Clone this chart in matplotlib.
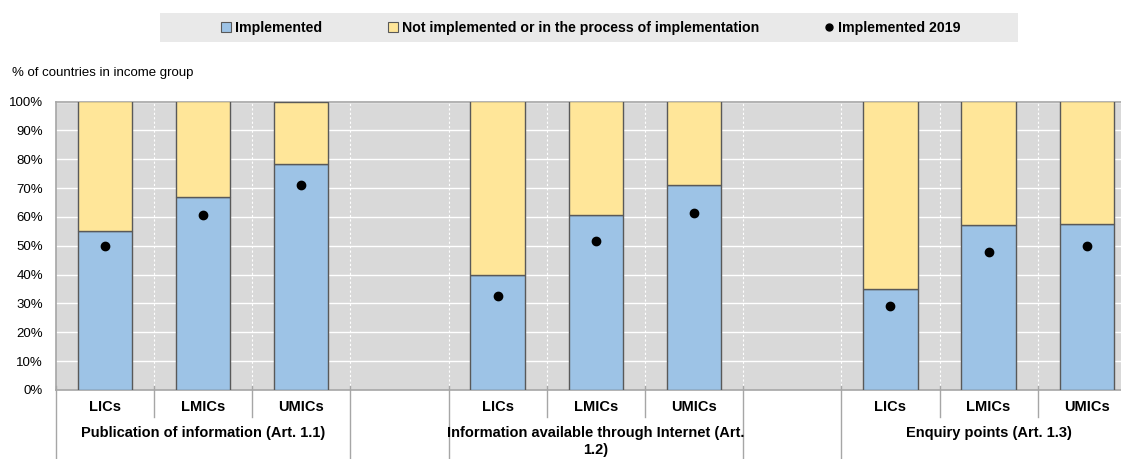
import matplotlib

matplotlib.use("Agg")

import matplotlib.pyplot as plt
from matplotlib.lines import Line2D
from matplotlib.patches import Rectangle
from matplotlib.transforms import blended_transform_factory

plt.rcParams["font.family"] = ["Liberation Sans", "DejaVu Sans"]

groups = [
    "Publication of information (Art. 1.1)",
    "Information available through Internet (Art.\n1.2)",
    "Enquiry points (Art. 1.3)",
]
income_groups = ["LICs", "LMICs", "UMICs"]
implemented = [[55.0, 66.9, 78.3], [39.7, 60.8, 71.2], [34.9, 57.2, 57.6]]
implemented_2019 = [[50.0, 60.8, 71.1], [32.7, 51.7, 61.2], [29.2, 48.0, 49.9]]

BLUE = "#9dc3e6"
YELLOW = "#ffe699"
EDGE = "#595959"
BG = "#d9d9d9"

W, H = 1121, 459
fig = plt.figure(figsize=(W / 100, H / 100), dpi=100)
# the last slot runs a little past the right edge of the figure
ax = fig.add_axes([55.7 / W, 69 / H, 11 * 98.2 / W, 288.5 / H])
ax.set_facecolor(BG)

slot = 0
xs, impl, impl19, cat_labels, centers = [], [], [], [], []
for g, name in enumerate(groups):
    for i, inc in enumerate(income_groups):
        xs.append(slot)
        impl.append(implemented[g][i])
        impl19.append(implemented_2019[g][i])
        cat_labels.append(inc)
        slot += 1
    centers.append(xs[-2])
    slot += 1  # empty spacer between groups

not_impl = [100 - v for v in impl]
ax.bar(xs, impl, width=0.555, color=BLUE, edgecolor=EDGE, linewidth=1.0, zorder=3)
ax.bar(xs, not_impl, bottom=impl, width=0.555, color=YELLOW, edgecolor=EDGE,
       linewidth=1.0, zorder=3)
ax.plot(xs, impl19, "o", color="black", markersize=6, zorder=4)

ax.set_xlim(-0.5, 10.5)
ax.set_ylim(0, 100)
ax.set_yticks(range(0, 101, 10))
ax.set_yticklabels([f"{v}%" for v in range(0, 101, 10)], fontsize=9.5)
ax.tick_params(axis="y", length=0, pad=9)
ax.set_xticks([])
ax.yaxis.grid(True, color="white", linewidth=1.0, zorder=1)
ax.set_axisbelow(True)
for b in [k + 0.5 for k in range(10)]:
    ax.axvline(b, color="white", linewidth=0.8, linestyle=(0, (2, 2)), zorder=1)

for side in ["top", "left", "bottom"]:
    ax.spines[side].set_color("#a6a6a6")
    ax.spines[side].set_linewidth(1.2)
ax.spines["right"].set_visible(False)

# category separators below the axis
trans = blended_transform_factory(ax.transData, ax.transAxes)
for b in [0.5, 1.5, 4.5, 5.5, 8.5, 9.5]:
    ax.plot([b, b], [0.015, -0.095], color="#a6a6a6", linewidth=1.0,
            transform=trans, clip_on=False)
for b in [-0.5, 2.5, 3.5, 6.5, 7.5]:
    ax.plot([b, b], [0.015, -0.25], color="#a6a6a6", linewidth=1.0,
            transform=trans, clip_on=False)

for x, lab in zip(xs, cat_labels):
    ax.text(x, -0.06, lab, transform=trans, ha="center", va="center",
            fontsize=10.5, fontweight="bold")
for c, name in zip(centers, groups):
    ax.text(c, -0.125, name, transform=trans, ha="center", va="top",
            fontsize=10.5, fontweight="bold", linespacing=1.25)

fig.text(12 / W, 1 - 73 / H, "% of countries in income group", fontsize=9.5,
         ha="left", va="center")

# legend band
fig.patches.append(Rectangle((160 / W, 1 - 42 / H), 858 / W, 29 / H,
                             transform=fig.transFigure, facecolor="#e9e9e9",
                             edgecolor="none", zorder=0))
handles = [
    Line2D([], [], marker="s", linestyle="none", markersize=7,
           markerfacecolor=BLUE, markeredgecolor=EDGE, markeredgewidth=0.8),
    Line2D([], [], marker="s", linestyle="none", markersize=7,
           markerfacecolor=YELLOW, markeredgecolor=EDGE, markeredgewidth=0.8),
    Line2D([], [], marker="o", linestyle="none", markersize=5, color="black"),
]
leg = fig.legend(handles, ["Implemented", "Not implemented or in the process of implementation",
                           "Implemented 2019"],
                 loc="center", bbox_to_anchor=(591 / W, 1 - 28 / H), ncol=3,
                 frameon=False, handlelength=0.7, handletextpad=0.3,
                 columnspacing=4.6, prop={"weight": "bold", "size": 10.2})

fig.savefig("out.png", dpi=100)
